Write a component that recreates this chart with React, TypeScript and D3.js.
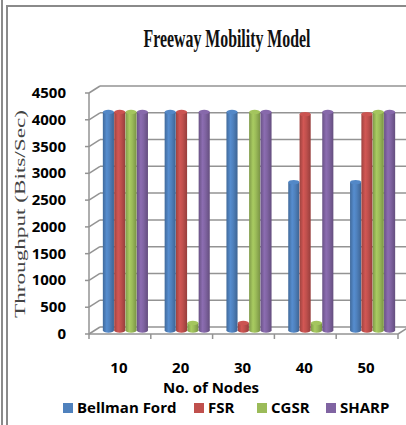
import React from 'react';
import * as d3 from 'd3';

const categories = ['10', '20', '30', '40', '50'];
const seriesNames = ['Bellman Ford', 'FSR', 'CGSR', 'SHARP'];
const bellmanFord = [4080, 4080, 4080, 2770, 2770];
const fsr = [4080, 4080, 140, 4040, 4040];
const cgsr = [4080, 140, 4080, 140, 4080];
const sharp = [4080, 4080, 4080, 4080, 4080];
const yTicks = [0, 500, 1000, 1500, 2000, 2500, 3000, 3500, 4000, 4500];
const seriesColors = ['#4F81BD', '#C0504D', '#9BBB59', '#8064A2'];
const titleText = 'Freeway Mobility Model';
const yTitle = 'Throughput (Bits/Sec)';
const xTitle = 'No. of Nodes';

const W = 406;
const H = 425;
const left = 89;
const right = 398;
const bottom = 334;
const top = 93;
const DX = 11;
const DY = -7;

export default function App() {
  const seriesData = [bellmanFord, fsr, cgsr, sharp];
  const y = d3.scaleLinear().domain([0, 4500]).range([bottom, top]);
  const x = d3.scaleBand<string>().domain(categories).range([left, right]).paddingInner(0.27).paddingOuter(0.135);
  const xs = d3.scaleBand<string>().domain(seriesNames).range([0, x.bandwidth()]).paddingInner(0.02);
  const step = x.step();
  const boundaries = d3.range(categories.length + 1).map((i) => left + i * step);
  const ox = DX / 2;
  const oy = DY / 2;
  const grid = '#939393';
  const legendX = [63, 194, 257, 326];

  return (
    <svg width={W} height={H} style={{ position: 'absolute', left: 0, top: 0, background: '#fff' }}>
      <defs>
        {seriesColors.map((c, i) => {
          const base = d3.color(c)!;
          return (
            <linearGradient key={i} id={`g${i}`} x1="0" x2="1" y1="0" y2="0">
              <stop offset="0" stopColor={base.darker(0.55).formatHex()} />
              <stop offset="0.35" stopColor={base.brighter(0.25).formatHex()} />
              <stop offset="0.6" stopColor={base.formatHex()} />
              <stop offset="1" stopColor={base.darker(0.7).formatHex()} />
            </linearGradient>
          );
        })}
      </defs>
      {/* frame */}
      <rect x={1} y={0} width={2} height={H} fill="#8a8a8a" />
      <rect x={6} y={5} width={2} height={H - 5} fill="#8a8a8a" />
      <rect x={6} y={5} width={W - 6} height={2} fill="#8a8a8a" />

      <text x={227} y={47} textAnchor="middle" fontFamily="Liberation Serif" fontWeight="bold" fontSize={25} textLength={167} lengthAdjust="spacingAndGlyphs" fill="#111">{titleText}</text>

      {/* back wall gridlines & side wall */}
      {yTicks.map((t) => (
        <g key={t}>
          {t > 0 && <line x1={left + DX} x2={W + 5} y1={y(t) + DY} y2={y(t) + DY} stroke={grid} strokeWidth={1.5} />}
          <line x1={left} x2={left + DX} y1={y(t)} y2={y(t) + DY} stroke={grid} strokeWidth={1.5} />
          <line x1={left - 4} x2={left} y1={y(t)} y2={y(t)} stroke={grid} strokeWidth={1.5} />
          <text x={66} y={y(t) + 5} textAnchor="end" fontFamily="Open Sans" fontWeight="bold" fontSize={15} fill="#000">{t}</text>
        </g>
      ))}
      <line x1={left} x2={left} y1={top} y2={bottom} stroke={grid} strokeWidth={1.5} />
      {/* floor */}
      <line x1={left + DX} x2={right + DX} y1={bottom + DY} y2={bottom + DY} stroke={grid} strokeWidth={1.5} />
      <line x1={right} x2={right + DX} y1={bottom} y2={bottom + DY} stroke={grid} strokeWidth={1.5} />
      <line x1={left} x2={right} y1={bottom} y2={bottom} stroke={grid} strokeWidth={1.5} />
      {boundaries.map((b, i) => (
        <line key={i} x1={b} x2={b} y1={bottom} y2={bottom + 5} stroke={grid} strokeWidth={1.5} />
      ))}

      {/* bars */}
      {categories.map((c, ci) => (
        <g key={c}>
          {seriesNames.map((s, si) => {
            const v = seriesData[si][ci];
            const bx = x(c)! + xs(s)! + ox;
            const bw = xs.bandwidth();
            const yt = y(v) + oy;
            const yb = y(0) + oy;
            const ry = 2.2;
            const base = d3.color(seriesColors[si])!;
            return (
              <g key={s}>
                <ellipse cx={bx + bw / 2} cy={yb} rx={bw / 2} ry={ry} fill={`url(#g${si})`} />
                <rect x={bx} y={yt} width={bw} height={yb - yt} fill={`url(#g${si})`} />
                <ellipse cx={bx + bw / 2} cy={yt} rx={bw / 2} ry={ry} fill={base.brighter(0.15).formatHex()} />
              </g>
            );
          })}
        </g>
      ))}

      {categories.map((c) => (
        <text key={c} x={x(c)! + x.bandwidth() / 2 - 1} y={373} textAnchor="middle" fontFamily="Open Sans" fontWeight="bold" fontSize={15} fill="#000">{c}</text>
      ))}
      <text x={211} y={393} textAnchor="middle" fontFamily="Open Sans" fontWeight="bold" fontSize={15} fill="#000">{xTitle}</text>

      <text transform={`translate(25,214) rotate(-90)`} textAnchor="middle" fontFamily="Liberation Serif" fontSize={15} textLength={208} lengthAdjust="spacingAndGlyphs" fill="#444">{yTitle}</text>

      {seriesNames.map((s, i) => (
        <g key={s}>
          <rect x={legendX[i]} y={403} width={10} height={10} fill={seriesColors[i]} />
          <text x={legendX[i] + 14} y={413} fontFamily="Open Sans" fontWeight="bold" fontSize={15} fill="#000">{s}</text>
        </g>
      ))}
    </svg>
  );
}
